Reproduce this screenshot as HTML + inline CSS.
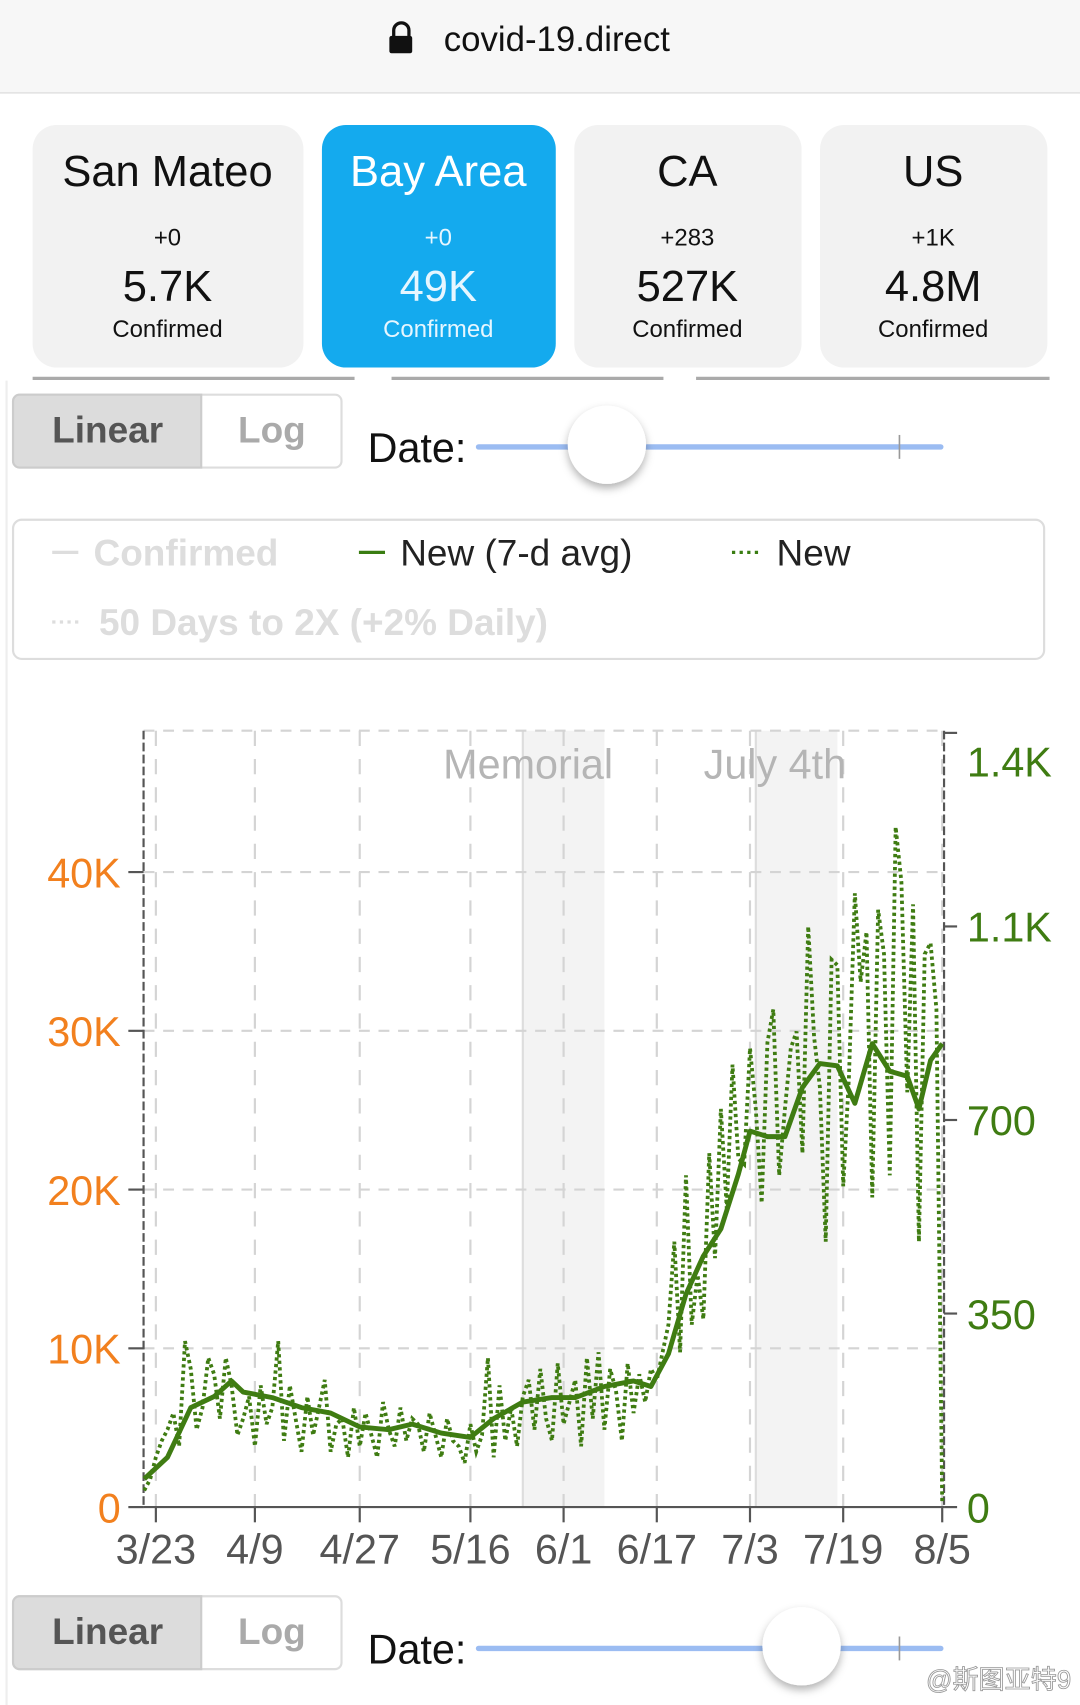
<!DOCTYPE html>
<html><head><meta charset="utf-8">
<style>
html,body{margin:0;padding:0;background:#fff;}
svg{display:block;}
text{font-family:"Liberation Sans","Noto Sans CJK SC",sans-serif;}
</style></head>
<body>
<svg id="page" width="1080" height="1705" viewBox="0 0 993 1568" preserveAspectRatio="none" xmlns="http://www.w3.org/2000/svg">
<defs>
<filter id="sh" x="-50%" y="-50%" width="200%" height="200%"><feDropShadow dx="0" dy="4" stdDeviation="4" flood-color="#000" flood-opacity="0.3"/></filter>
</defs>
<rect x="0" y="0" width="993" height="1568" fill="#fff"/>
<g>
<rect x="0" y="0" width="993" height="85" fill="#f7f7f7"/>
<line x1="0" y1="85.5" x2="993" y2="85.5" stroke="#d8d8d8"/>
<g>
<path d="M362 34 v-6 a7 7 0 0 1 14 0 v6" fill="none" stroke="#111" stroke-width="3"/>
<rect x="358" y="33" width="21" height="16" rx="2" fill="#111"/>
</g>
<text x="512" y="47" font-size="32" text-anchor="middle" fill="#111">covid-19.direct</text>
</g>
<rect x="0" y="86" width="993" height="260" fill="#fff"/>
<g>
<rect x="30" y="115" width="249" height="223" rx="22" fill="#f2f2f2"/>
<text x="154" y="171" font-size="40" text-anchor="middle" fill="#111">San Mateo</text>
<text x="154" y="226" font-size="22" text-anchor="middle" fill="#111">+0</text>
<text x="154" y="277" font-size="40" text-anchor="middle" fill="#111">5.7K</text>
<text x="154" y="310" font-size="22" text-anchor="middle" fill="#111">Confirmed</text>
</g>
<g>
<rect x="296" y="115" width="215" height="223" rx="22" fill="#14aaee"/>
<text x="403" y="171" font-size="40" text-anchor="middle" fill="#fff">Bay Area</text>
<text x="403" y="226" font-size="22" text-anchor="middle" fill="#e6f6ff">+0</text>
<text x="403" y="277" font-size="40" text-anchor="middle" fill="#e6f6ff">49K</text>
<text x="403" y="310" font-size="22" text-anchor="middle" fill="#e6f6ff">Confirmed</text>
</g>
<g>
<rect x="528" y="115" width="209" height="223" rx="22" fill="#f2f2f2"/>
<text x="632" y="171" font-size="40" text-anchor="middle" fill="#111">CA</text>
<text x="632" y="226" font-size="22" text-anchor="middle" fill="#111">+283</text>
<text x="632" y="277" font-size="40" text-anchor="middle" fill="#111">527K</text>
<text x="632" y="310" font-size="22" text-anchor="middle" fill="#111">Confirmed</text>
</g>
<g>
<rect x="754" y="115" width="209" height="223" rx="22" fill="#f2f2f2"/>
<text x="858" y="171" font-size="40" text-anchor="middle" fill="#111">US</text>
<text x="858" y="226" font-size="22" text-anchor="middle" fill="#111">+1K</text>
<text x="858" y="277" font-size="40" text-anchor="middle" fill="#111">4.8M</text>
<text x="858" y="310" font-size="22" text-anchor="middle" fill="#111">Confirmed</text>
</g>
<g stroke="#aaa" stroke-width="3">
<line x1="30" y1="348" x2="326" y2="348"/>
<line x1="360" y1="348" x2="610" y2="348"/>
<line x1="640" y1="348" x2="965" y2="348"/>
</g>
<line x1="6" y1="350" x2="6" y2="1568" stroke="#eee" stroke-width="2"/>

<g>
<rect x="12" y="363" width="302" height="67" rx="6" fill="#fff" stroke="#ddd" stroke-width="2"/>
<path d="M18 363 H185 V430 H18 a6 6 0 0 1 -6 -6 V369 a6 6 0 0 1 6 -6z" fill="#dcdcdc" stroke="#ccc" stroke-width="2"/>
<text x="99" y="407" font-size="34" font-weight="bold" text-anchor="middle" fill="#555">Linear</text>
<text x="250" y="407" font-size="34" font-weight="bold" text-anchor="middle" fill="#aaa">Log</text>
</g>
<text x="338" y="425" font-size="38" fill="#111">Date:</text>
<g>
<line x1="440" y1="411" x2="865" y2="411" stroke="#9bbcf2" stroke-width="5" stroke-linecap="round"/>
<line x1="827" y1="400" x2="827" y2="422" stroke="#999" stroke-width="1.5"/>
<circle cx="558" cy="409" r="36" fill="#fff" filter="url(#sh)"/>
</g>

<g>
<rect x="12" y="478" width="948" height="128" rx="8" fill="#fff" stroke="#ddd" stroke-width="2"/>
<g>
<line x1="48" y1="508" x2="72" y2="508" stroke="#ddd" stroke-width="3"/>
<text x="86" y="520" font-size="34" font-weight="bold" fill="#ddd">Confirmed</text></g>
<g>
<line x1="330" y1="508" x2="354" y2="508" stroke="#3a7d12" stroke-width="3"/>
<text x="368" y="520" font-size="34" fill="#222">New (7-d avg)</text></g>
<g>
<line x1="673" y1="508" x2="700" y2="508" stroke="#3a7d12" stroke-width="3" stroke-dasharray="3 4"/>
<text x="714" y="520" font-size="34" fill="#222">New</text></g>
<g>
<line x1="48" y1="572" x2="76" y2="572" stroke="#ddd" stroke-width="3" stroke-dasharray="3 4"/>
<text x="91" y="584" font-size="34" font-weight="bold" fill="#ddd">50 Days to 2X (+2% Daily)</text></g>
</g>

<g id="chart"></g>

<g>
<rect x="12" y="1468" width="302" height="67" rx="6" fill="#fff" stroke="#ddd" stroke-width="2"/>
<path d="M18 1468 H185 V1535 H18 a6 6 0 0 1 -6 -6 V1474 a6 6 0 0 1 6 -6z" fill="#dcdcdc" stroke="#ccc" stroke-width="2"/>
<text x="99" y="1512" font-size="34" font-weight="bold" text-anchor="middle" fill="#555">Linear</text>
<text x="250" y="1512" font-size="34" font-weight="bold" text-anchor="middle" fill="#aaa">Log</text>
</g>
<text x="338" y="1530" font-size="38" fill="#111">Date:</text>
<g>
<line x1="440" y1="1516" x2="865" y2="1516" stroke="#9bbcf2" stroke-width="5" stroke-linecap="round"/>
<line x1="827" y1="1505" x2="827" y2="1527" stroke="#999" stroke-width="1.5"/>
<circle cx="737" cy="1514" r="36" fill="#fff" filter="url(#sh)"/>
</g>
<text x="985" y="1553" font-size="24" text-anchor="end" fill="#fff" stroke="#999" stroke-width="0.8">@斯图亚特9</text>
</svg>
<script>
const dailyNew = [30,50,90,120,140,170,110, 300,250,140,180,270,240,160, 270,220,130,160,200,110,220,
 150,180,300,120,220,160,100, 200,130,180,230,100,150,160, 90,180,110,170,130,90,190,
 140,110,180,120,160,150,100, 170,130,90,160,120,110,80, 150,100,130,270,90,220,120,
 180,110,200,230,140,250,160, 120,260,150,190,230,110,270, 160,280,140,250,210,120,260,
 170,240,190,250,230,280,330, 480,280,600,330,420,340,640, 450,720,540,800,630,620,830,
 720,550,840,900,600,720,830, 860,640,1050,850,760,480,990, 980,580,780,1110,950,1040,560,
 1080,1000,600,1230,1130,750,1090, 480,1000,1020,900,10];
const avgDays = [0,4,8,12,15,17,22,27,32,37,42,46,51,56,60,65,70,74,79,84,87,90,93,96,99,102,104,107,110,113,116,119,122,125,128,131,133,135,137];
const avgValues = [51,90,180,200,228,208,198,180,170,145,140,150,134,126,160,190,198,198,218,228,218,277,385,454,503,602,680,670,670,759,802,798,730,838,788,779,720,808,838];
const leftTicks = [0,10000,20000,30000,40000];
const leftTickLabels = ["0","10K","20K","30K","40K"];
const rightTicks = [0,350,700,1050,1400];
const rightTickLabels = ["0","350","700","1.1K","1.4K"];
const xTickDays = [2,19,37,56,72,88,104,120,137];
const xTickLabels = ["3/23","4/9","4/27","5/16","6/1","6/17","7/3","7/19","8/5"];
const holidayStarts = [65,105];
const holidayEnds = [79,119];
const holidayNames = ["Memorial","July 4th"];

const NS = "http://www.w3.org/2000/svg";
const chart = document.getElementById('chart');
const X0 = 132, X1 = 868, Y0 = 1386, YT = 672;
const pxPerDay = (866 - 143) / 135;
const xDay = d => X0 + d * pxPerDay + 0.6;
const yL = v => Y0 - v * (146 / 10000);
const yR = v => Y0 - v * (178 / 350);
function mk(tag, attrs){ const e = document.createElementNS(NS, tag); for (const k in attrs) e.setAttribute(k, attrs[k]); chart.appendChild(e); return e; }

holidayStarts.forEach((s, i) => {
  const r = mk('rect', {x: xDay(s), y: YT, width: xDay(holidayEnds[i]) - xDay(s), height: Y0 - YT, fill: '#f3f3f3'});
  
  
  const l = mk('line', {x1: xDay(s), y1: YT, x2: xDay(s), y2: Y0, stroke: '#ddd', 'stroke-width': 2});
  
  
});
leftTicks.forEach((v, i) => {
  if (i === 0) return;
  const g = mk('line', {x1: X0, y1: yL(v), x2: X1, y2: yL(v), stroke: '#d4d4d4', 'stroke-width': 2, 'stroke-dasharray': '10 8'});
  
  
});
mk('line', {x1: X0, y1: YT, x2: X1, y2: YT, stroke: '#d4d4d4', 'stroke-width': 2, 'stroke-dasharray': '10 8'});
xTickDays.forEach(d => {
  const g = mk('line', {x1: xDay(d), y1: YT, x2: xDay(d), y2: Y0, stroke: '#d4d4d4', 'stroke-width': 2, 'stroke-dasharray': '14 12'});
  
  
});
holidayNames.forEach((n, i) => {
  const t = mk('text', {x: xDay(holidayEnds[i]) + 8, y: 716, 'font-size': 38, 'text-anchor': 'end', fill: '#b5b5b5'});
  t.textContent = n;
  
  
});
mk('line', {x1: X0, y1: YT, x2: X0, y2: Y0, stroke: '#555', 'stroke-width': 2, 'stroke-dasharray': '8 3'});
mk('line', {x1: X1, y1: YT, x2: X1, y2: Y0, stroke: '#555', 'stroke-width': 2, 'stroke-dasharray': '8 3'});
mk('line', {x1: X0, y1: Y0, x2: X1, y2: Y0, stroke: '#555', 'stroke-width': 2});
leftTicks.forEach((v, i) => {
  mk('line', {x1: X0 - 14, y1: yL(v), x2: X0, y2: yL(v), stroke: '#555', 'stroke-width': 2});
  const t = mk('text', {x: 111, y: yL(v) + 14, 'font-size': 38, 'text-anchor': 'end', fill: '#f2801e'});
  t.textContent = leftTickLabels[i];
  
  
});
rightTicks.forEach((v, i) => {
  mk('line', {x1: X1, y1: yR(v), x2: X1 + 12, y2: yR(v), stroke: '#555', 'stroke-width': 2});
  const t = mk('text', {x: 889, y: (i === 4 ? yR(v) + 40 : yR(v) + 14), 'font-size': 38, fill: '#3f7c12'});
  t.textContent = rightTickLabels[i];
  
  
});
xTickDays.forEach((d, i) => {
  mk('line', {x1: xDay(d), y1: Y0, x2: xDay(d), y2: Y0 + 14, stroke: '#555', 'stroke-width': 2});
  const t = mk('text', {x: xDay(d), y: 1438, 'font-size': 38, 'text-anchor': 'middle', fill: '#555'});
  t.textContent = xTickLabels[i];
  
  
});
const dPts = dailyNew.map((v, i) => xDay(i).toFixed(1) + ',' + yR(v).toFixed(1)).join(' ');
const dl = mk('polyline', {points: dPts, fill: 'none', stroke: '#3f7c12', 'stroke-width': 3.5, 'stroke-dasharray': '3 3'});


const aPts = avgDays.map((d, i) => xDay(d).toFixed(1) + ',' + yR(avgValues[i]).toFixed(1)).join(' ');
const al = mk('polyline', {points: aPts, fill: 'none', stroke: '#3f7c12', 'stroke-width': 4.5, 'stroke-linejoin': 'round'});


</script>
</body></html>
